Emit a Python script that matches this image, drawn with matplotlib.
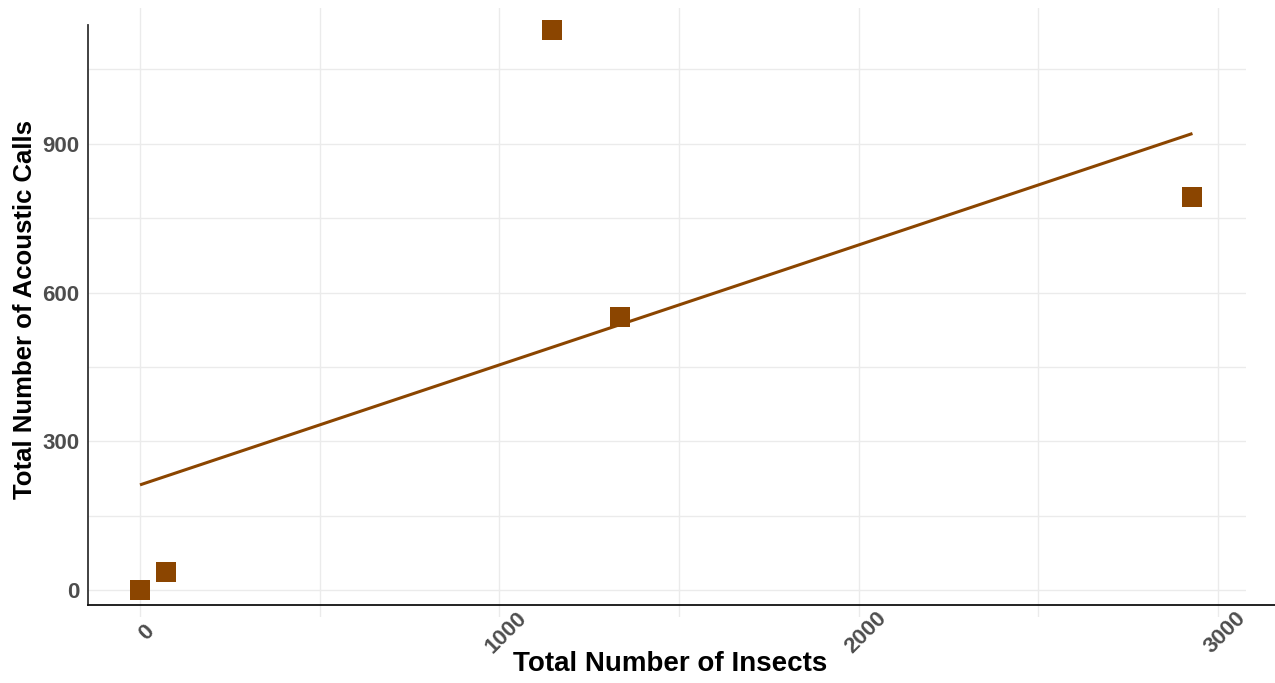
import matplotlib
matplotlib.use("Agg")
import matplotlib.pyplot as plt
from matplotlib.lines import Line2D
from matplotlib.ticker import MultipleLocator
from matplotlib.transforms import ScaledTranslation

# Observations: total insects vs. total acoustic calls
insects = [0, 72, 1146, 1335, 2929]
calls = [0, 36, 1129, 551, 793]

# Fitted linear trend (intercept, slope)
fit_intercept = 212
fit_slope = 0.242

x_ticks = [0, 1000, 2000, 3000]
y_ticks = [0, 300, 600, 900]

COLOR = "#8B4500"
W, H, DPI = 1275, 683, 100

plt.rcParams["font.family"] = ["Liberation Sans", "DejaVu Sans"]

fig = plt.figure(figsize=(W / DPI, H / DPI), dpi=DPI)
ax = fig.add_axes([88 / W, (H - 617) / H, (1246 - 88) / W, (617 - 8) / H])

ax.set_xlim(-144.7, 3078)
ax.set_ylim(-54.5, 1174)

# grid
ax.set_xticks(x_ticks)
ax.set_yticks(y_ticks)
ax.xaxis.set_minor_locator(MultipleLocator(500))
ax.yaxis.set_minor_locator(MultipleLocator(150))
ax.grid(True, which="both", color="#EBEBEB", linewidth=1.0)
ax.set_axisbelow(True)
ax.tick_params(which="both", length=0)
ax.tick_params(axis="x", pad=11)
ax.tick_params(axis="y", pad=6)
for s in ax.spines.values():
    s.set_visible(False)

shift = ScaledTranslation(7 / DPI, 0, fig.dpi_scale_trans)
for lab in ax.get_xticklabels():
    lab.set_rotation(45)
    lab.set_rotation_mode("anchor")
    lab.set_ha("center")
    lab.set_va("center")
    lab.set_transform(lab.get_transform() + shift)
for lab in ax.get_xticklabels() + ax.get_yticklabels():
    lab.set_fontsize(16)
    lab.set_fontweight("bold")
    lab.set_color("#4D4D4D")

# trend line over the observed range
x0, x1 = min(insects), max(insects)
ax.plot([x0, x1], [fit_intercept + fit_slope * x0, fit_intercept + fit_slope * x1],
        color=COLOR, linewidth=2.2, solid_capstyle="butt", zorder=3)

ax.plot(insects, calls, linestyle="none", marker="s", markersize=13.7,
        markerfacecolor=COLOR, markeredgewidth=0, zorder=4, clip_on=False)

# axis lines
fig.add_artist(Line2D([88 / W, 88 / W], [(H - 605) / H, (H - 25) / H],
                      transform=fig.transFigure, color="#333333", linewidth=1.3))
fig.add_artist(Line2D([88 / W, 1.0], [(H - 605) / H, (H - 605) / H],
                      transform=fig.transFigure, color="#111111", linewidth=1.3))

fig.text(670 / W, (H - 664) / H, "Total Number of Insects", ha="center", va="center",
         fontsize=20, fontweight="bold", color="black")
fig.text(25 / W, (H - 310) / H, "Total Number of Acoustic Calls", ha="center", va="center",
         rotation=90, fontsize=18.5, fontweight="bold", color="black")

fig.savefig("out.png", dpi=DPI)
